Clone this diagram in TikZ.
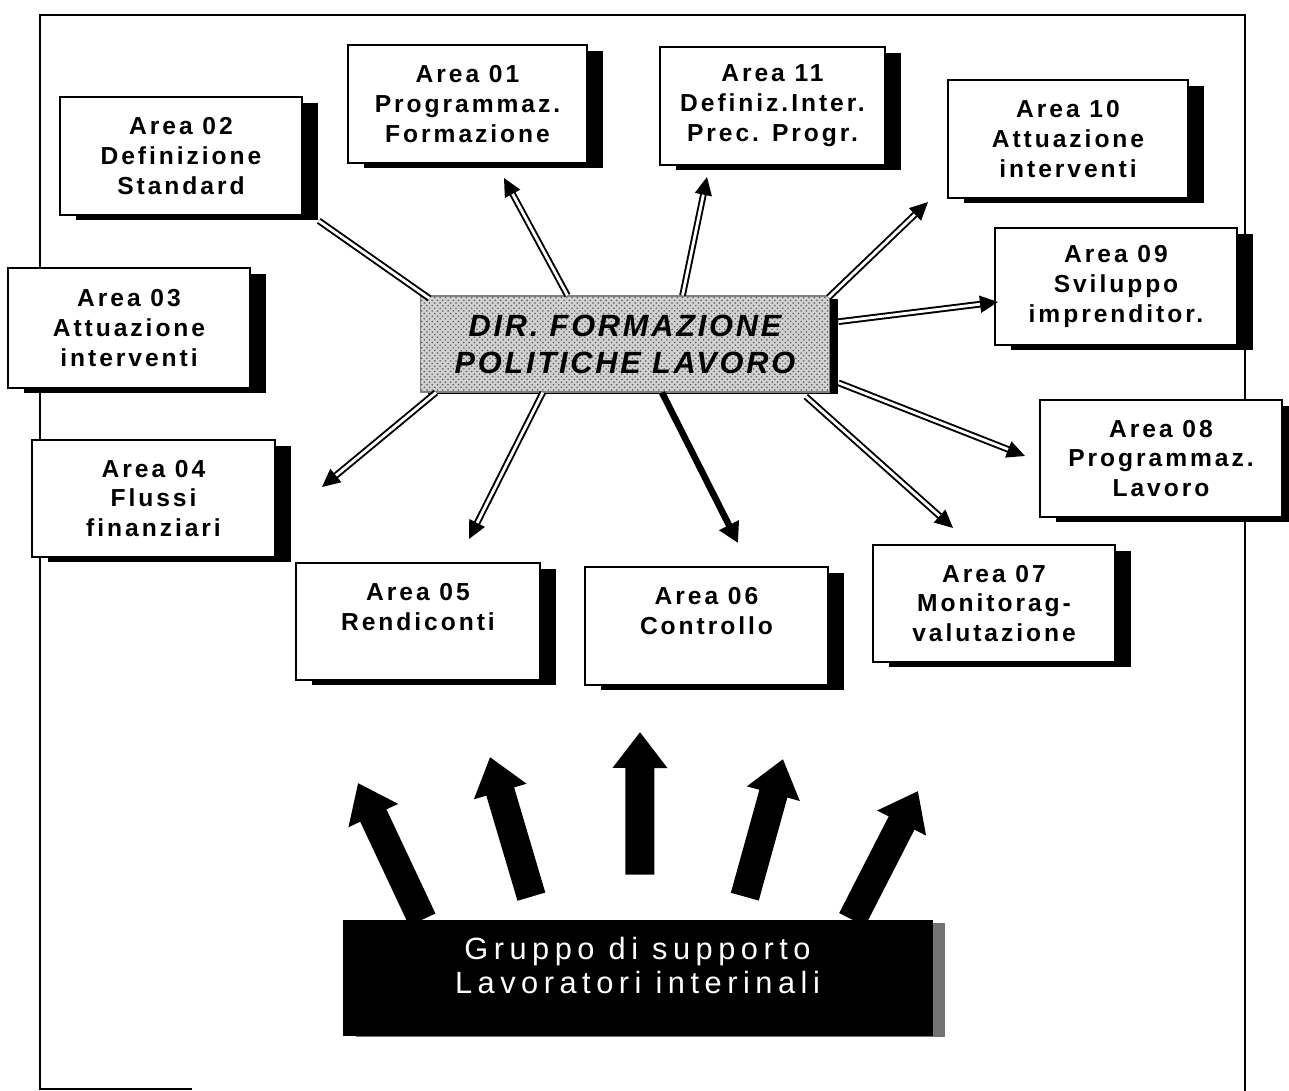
\documentclass[tikz,border=0pt]{standalone}
\usepackage{fontspec}
\setmainfont{Liberation Sans}
\newfontfamily\boxfont[LetterSpace=12]{Liberation Sans}
\newfontfamily\dirfont[LetterSpace=9]{Liberation Sans}
\newfontfamily\grpfont[LetterSpace=18]{Liberation Sans}
\usetikzlibrary{shadows,arrows.meta,calc,patterns}
\tikzset{
  areabox/.style={draw=black, line width=1pt, fill=white, align=center,
    font=\boxfont\bfseries\fontsize{14pt}{17pt}\selectfont, inner sep=0pt,
    minimum width=4.84cm, minimum height=2.36cm,
    drop shadow={shadow xshift=0.32cm, shadow yshift=-0.11cm, fill=black, opacity=1}},
  dirbox/.style={draw=black!50, line width=0.6pt, fill=black!18,
    postaction={pattern=crosshatch dots, pattern color=black!65},
    align=center, font=\dirfont\bfseries\itshape\fontsize{17.5pt}{21pt}\selectfont,
    minimum width=8.2cm, minimum height=1.92cm, inner sep=0pt,
    drop shadow={shadow xshift=0.16cm, shadow yshift=-0.05cm, fill=black, opacity=1}},
  grpbox/.style={fill=black, draw=black, text=white, align=center,
    font=\grpfont\fontsize{17.5pt}{19.5pt}\selectfont,
    minimum width=11.78cm, minimum height=2.3cm, inner sep=0pt,
    drop shadow={shadow xshift=0.26cm, shadow yshift=-0.05cm, fill=black!55, opacity=1}},
  thinarrow/.style={draw=black, line width=1.1pt, double=white, double distance=1.6pt,
    -{Triangle[length=0.36cm,width=0.34cm]}},
  thinlink/.style={draw=black, line width=1.1pt, double=white, double distance=1.6pt},
  solidarrow/.style={draw=black, line width=0.13cm, -{Triangle[length=0.4cm,width=0.42cm]}},
  bigarrow/.style={draw=black, line width=0.58cm, -{Triangle[length=0.72cm,width=1.05cm]}},
  frameline/.style={draw=black, line width=0.9pt},
}
\begin{document}
\begin{tikzpicture}[x=0.02cm,y=-0.02cm]
\useasboundingbox (0,0) rectangle (1289,1091);
% frame
\draw[frameline] (192,1089) -- (40,1089) -- (40,15) -- (1245,15) -- (1245,1091);

% nodes
\node[areabox] (a02) at (181,156) {Area 02\\Definizione\\Standard};
\node[areabox, minimum width=4.78cm] (a01) at (467.5,104) {Area 01\\Programmaz.\\Formazione};
\node[areabox, minimum width=4.5cm] (a11) at (772.5,106) {Area 11\\Definiz.Inter.\\Prec. Progr.};
\node[areabox, minimum width=4.8cm] (a10) at (1068,139) {Area 10\\Attuazione\\interventi};
\node[areabox, minimum height=2.34cm] (a09) at (1116,286.5) {Area 09\\Sviluppo\\imprenditor.};
\node[areabox, minimum height=2.4cm] (a03) at (129,328) {Area 03\\Attuazione\\interventi};
\node[areabox, minimum width=4.86cm, minimum height=2.34cm] (a04) at (153.5,498.5) {Area 04\\Flussi\\finanziari};
\node[areabox, minimum height=2.34cm] (a08) at (1161,458.5) {Area 08\\Programmaz.\\Lavoro};
\node[areabox, minimum width=4.88cm, minimum height=2.34cm] (a05) at (418,621.5) {Area 05\\Rendiconti\\\mbox{}};
\node[areabox, minimum width=4.86cm] (a06) at (706.5,626) {Area 06\\Controllo\\\mbox{}};
\node[areabox, minimum height=2.34cm] (a07) at (994,603.5) {Area 07\\Monitorag-\\valutazione};
\node[dirbox] (dir) at (625,344) {DIR. FORMAZIONE\\POLITICHE LAVORO};
\node[grpbox] (grp) at (637.5,977.5) {Gruppo di supporto\\Lavoratori interinali\\[-6pt]\mbox{}};

% arrow tips (free ends)
\coordinate (e01) at (504,178);
\coordinate (e11) at (707,177);
\coordinate (e10) at (928,202);
\coordinate (e09) at (998,302);
\coordinate (e08) at (1025,456);
\coordinate (e07) at (953,528);
\coordinate (e06) at (738,543);
\coordinate (e05) at (469,539);
\coordinate (e04) at (322,487);

% links from the centre
\draw[thinlink] ($(dir.north west)+(10,3)$) -- ($(a02.south east)+(16,5)$);
\draw[thinlink] ($(a03.east)+(18,19)$) -- ($(a03.east)+(18,19)$ -| dir.west);
\draw[thinarrow] ($(dir.north west)!0.36!(dir.north east)$) -- (e01);
\draw[thinarrow] ($(dir.north west)!0.64!(dir.north east)$) -- (e11);
\draw[thinarrow] ($(dir.north east)+(-2,2)$) -- (e10);
\draw[thinarrow] ($(dir.north east)!0.27!(dir.south east)+(8,0)$) -- (e09);
\draw[thinarrow] ($(dir.north east)!0.9!(dir.south east)+(8,0)$) -- (e08);
\draw[thinarrow] ($(dir.south west)!0.94!(dir.south east)+(0,4)$) -- (e07);
\draw[solidarrow] ($(dir.south west)!0.59!(dir.south east)$) -- (e06);
\draw[thinarrow] ($(dir.south west)!0.30!(dir.south east)$) -- (e05);
\draw[thinarrow] ($(dir.south west)!0.04!(dir.south east)$) -- (e04);

% big arrows from the support group
\coordinate (b1) at (358,783);
\coordinate (b2) at (490,757);
\coordinate (b3) at (640,732);
\coordinate (b4) at (783,759);
\coordinate (b5) at (918,791);
\draw[bigarrow] ($(grp.north west)!0.135!(grp.north east)$) -- (b1);
\draw[bigarrow] ($(grp.north west)!0.32!(grp.north east)+(0,-23)$) -- (b2);
\draw[bigarrow] ($(grp.north west)!0.504!(grp.north east)+(0,-45)$) -- (b3);
\draw[bigarrow] ($(grp.north west)!0.682!(grp.north east)+(0,-23)$) -- (b4);
\draw[bigarrow] ($(grp.north west)!0.864!(grp.north east)$) -- (b5);
\end{tikzpicture}
\end{document}
